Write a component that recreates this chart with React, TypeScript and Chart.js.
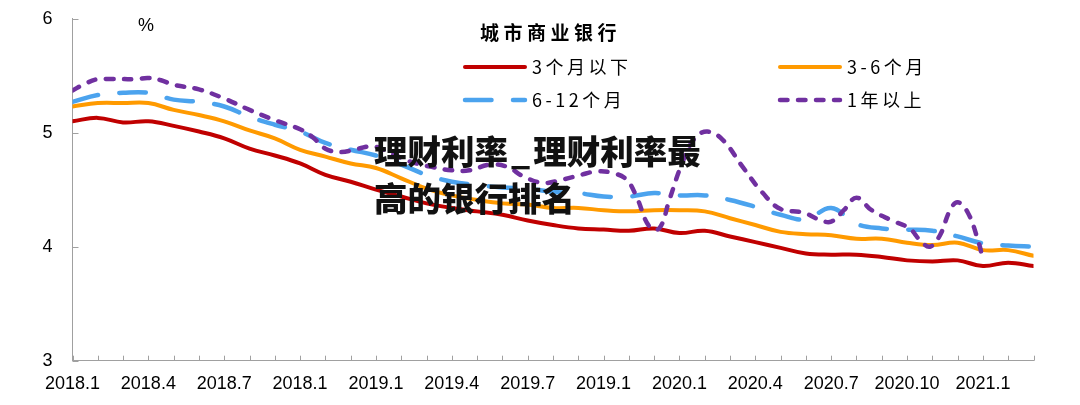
import React, { useEffect, useRef } from "react";
import { Chart, registerables } from "chart.js";
Chart.register(...registerables);

// month index from 2018.1 (0) to 2021.3 (38)
const months = [0, 1, 2, 3, 4, 5, 6, 7, 8, 9, 10, 11, 12, 13, 14, 15, 16, 17, 18, 19, 20, 21, 22, 23, 24, 25, 26, 27, 28, 29, 30, 31, 32, 33, 34, 35, 36, 37, 38];

const xTickMonths = [0, 3, 6, 9, 12, 15, 18, 21, 24, 27, 30, 33, 36];
const xTickLabels = ["2018.1", "2018.4", "2018.7", "2018.1", "2019.1", "2019.4", "2019.7", "2019.1", "2020.1", "2020.4", "2020.7", "2020.10", "2021.1"];
const yTicks = [3, 4, 5, 6];

const seriesNames = ["3个月以下", "3-6个月", "6-12个月", "1年以上"];
const legendTitle = "城市商业银行";
const unitLabel = "%";

const below3m = [5.10, 5.13, 5.09, 5.10, 5.06, 5.01, 4.95, 4.86, 4.80, 4.73, 4.63, 4.57, 4.50, 4.44, 4.38, 4.34, 4.31, 4.28, 4.23, 4.19, 4.16, 4.15, 4.14, 4.16, 4.12, 4.14, 4.09, 4.04, 3.99, 3.94, 3.93, 3.93, 3.91, 3.88, 3.87, 3.88, 3.83, 3.86, 3.83];
const m3to6 = [5.23, 5.26, 5.26, 5.26, 5.20, 5.155, 5.10, 5.02, 4.95, 4.85, 4.79, 4.73, 4.69, 4.60, 4.51, 4.45, 4.41, 4.38, 4.37, 4.34, 4.34, 4.32, 4.31, 4.32, 4.32, 4.31, 4.25, 4.19, 4.13, 4.11, 4.10, 4.07, 4.07, 4.035, 4.015, 4.035, 3.97, 3.97, 3.92];
const m6to12 = [5.27, 5.33, 5.35, 5.35, 5.29, 5.27, 5.23, 5.14, 5.07, 5.01, 4.91, 4.85, 4.80, 4.72, 4.63, 4.57, 4.54, 4.52, 4.51, 4.48, 4.47, 4.44, 4.44, 4.47, 4.45, 4.45, 4.41, 4.35, 4.28, 4.24, 4.34, 4.20, 4.16, 4.15, 4.14, 4.09, 4.03, 4.01, 4.00];

const over1yX = [0, 0.5, 1, 1.5, 2, 2.5, 3, 3.5, 4, 5, 6, 7, 8, 9, 9.5, 10, 10.6, 11.3, 11.9, 12.6, 13.3, 14.2, 15, 15.7, 16.5, 17.2, 17.8, 18.6, 19.4, 20.1, 20.7, 21.3, 21.9, 22.3, 22.8, 23.2, 23.6, 24.1, 24.6, 25.1, 25.7, 26.5, 27.3, 28, 28.9, 29.5, 30, 30.5, 31, 31.6, 32.4, 33.1, 33.5, 33.9, 34.3, 34.7, 35, 35.4, 35.8, 36];
const over1y = [5.37, 5.43, 5.47, 5.47, 5.47, 5.47, 5.48, 5.46, 5.42, 5.38, 5.30, 5.20, 5.11, 5.03, 4.96, 4.86, 4.83, 4.86, 4.88, 4.82, 4.75, 4.70, 4.67, 4.67, 4.72, 4.70, 4.62, 4.56, 4.59, 4.63, 4.66, 4.65, 4.59, 4.44, 4.18, 4.16, 4.41, 4.73, 4.95, 5.01, 4.94, 4.70, 4.47, 4.33, 4.30, 4.24, 4.22, 4.32, 4.43, 4.32, 4.23, 4.16, 4.06, 4.00, 4.10, 4.32, 4.39, 4.30, 4.06, 3.89];

const AXIS_COLOR = "#a0a0a0";
const FONT_FAMILY = "'Liberation Sans', Arial, sans-serif";
const CJK_FAMILY = "'Noto Sans CJK SC', 'Liberation Sans', sans-serif";

const innerTicksPlugin = {
  id: "innerTicks",
  beforeDatasetsDraw(chart: any) {
    const { ctx, scales, chartArea } = chart;
    const x = scales.x;
    const y = scales.y;
    ctx.save();
    ctx.strokeStyle = AXIS_COLOR;
    ctx.lineWidth = 1;
    ctx.beginPath();
    for (const m of months) {
      const px = Math.round(x.getPixelForValue(m)) + 0.5;
      ctx.moveTo(px, chartArea.bottom);
      ctx.lineTo(px, chartArea.bottom - 5);
    }
    for (const v of yTicks) {
      const py = Math.round(y.getPixelForValue(v)) + 0.5;
      ctx.moveTo(chartArea.left, py);
      ctx.lineTo(chartArea.left + 6, py);
    }
    ctx.stroke();
    // unit label
    ctx.fillStyle = "#000";
    ctx.font = `18px ${FONT_FAMILY}`;
    ctx.textAlign = "left";
    ctx.textBaseline = "alphabetic";
    ctx.fillText(unitLabel, 138, 31);
    ctx.restore();
  },
};

const legendPlugin = {
  id: "customLegend",
  afterDraw(chart: any) {
    const { ctx } = chart;
    ctx.save();
    ctx.fillStyle = "#000";
    ctx.textAlign = "left";
    ctx.textBaseline = "alphabetic";
    ctx.font = `bold 19px ${CJK_FAMILY}`;
    (ctx as any).letterSpacing = "4.5px";
    ctx.fillText(legendTitle, 480, 40);
    const cols = [463, 778];
    const rows = [67, 100];
    chart.data.datasets.forEach((ds: any, i: number) => {
      const cx = cols[i % 2];
      const cy = rows[Math.floor(i / 2)];
      ctx.beginPath();
      ctx.strokeStyle = ds.borderColor;
      ctx.lineWidth = ds.borderWidth;
      ctx.lineCap = "round";
      ctx.setLineDash(ds.borderDash || []);
      ctx.moveTo(cx + 2, cy);
      ctx.lineTo(cx + 62, cy);
      ctx.stroke();
      ctx.setLineDash([]);
      ctx.font = `18px ${CJK_FAMILY}`;
      (ctx as any).letterSpacing = "3.5px";
      ctx.fillStyle = "#000";
      ctx.fillText(ds.label, cx + 69, cy + 6.5);
    });
    ctx.restore();
  },
};

export default function App() {
  const ref = useRef<HTMLCanvasElement>(null);
  useEffect(() => {
    document.body.style.margin = "0";
    const canvas = ref.current!;
    const mk = (xs: number[], ys: number[]) => xs.map((x, i) => ({ x, y: ys[i] }));
    const common = {
      pointRadius: 0,
      tension: 0.4,
      borderCapStyle: "round" as const,
      borderJoinStyle: "round" as const,
      fill: false,
    };
    const chart = new Chart(canvas, {
      type: "line",
      data: {
        datasets: [
          { ...common, label: seriesNames[0], data: mk(months, below3m), borderColor: "#C00000", borderWidth: 4, order: 3 },
          { ...common, label: seriesNames[1], data: mk(months, m3to6), borderColor: "#FF9A00", borderWidth: 4, order: 2 },
          { ...common, label: seriesNames[2], data: mk(months, m6to12), borderColor: "#4BA3EE", borderWidth: 4.5, borderDash: [26.5, 21.5], order: 1 },
          { ...common, label: seriesNames[3], data: mk(over1yX, over1y), borderColor: "#7030A0", borderWidth: 4.5, borderDash: [7.5, 10.5], order: 0 },
        ],
      },
      options: {
        responsive: false,
        animation: false,
        devicePixelRatio: 1,
        layout: { padding: { top: 18.7, right: 46.5, left: 0, bottom: 0 } },
        plugins: { legend: { display: false }, tooltip: { enabled: false } },
        scales: {
          x: {
            type: "linear",
            min: 0,
            max: 38,
            afterBuildTicks: (s: any) => {
              s.ticks = xTickMonths.map((v) => ({ value: v }));
            },
            afterFit: (s: any) => {
              s.height = 44.3;
            },
            ticks: {
              autoSkip: false,
              maxRotation: 0,
              padding: 13,
              color: "#000",
              font: { family: FONT_FAMILY, size: 18 },
              callback: (_v: any, i: number) => xTickLabels[i],
            },
            grid: { display: false, drawTicks: false },
            border: { display: true, color: AXIS_COLOR, width: 1 },
          },
          y: {
            min: 3,
            max: 6,
            afterBuildTicks: (s: any) => {
              s.ticks = yTicks.map((v) => ({ value: v }));
            },
            afterFit: (s: any) => {
              s.width = 72.5;
              s.paddingTop = 0;
              s.paddingBottom = 0;
            },
            ticks: {
              padding: 20,
              color: "#000",
              font: { family: FONT_FAMILY, size: 18 },
            },
            grid: { display: false, drawTicks: false },
            border: { display: true, color: AXIS_COLOR, width: 1 },
          },
        },
      },
      plugins: [innerTicksPlugin, legendPlugin],
    } as any);
    return () => chart.destroy();
  }, []);

  return (
    <div style={{ position: "relative", width: 1080, height: 405, background: "#fff", overflow: "hidden" }}>
      <canvas ref={ref} width={1080} height={405} style={{ display: "block" }} />
      <div
        style={{
          position: "absolute",
          left: 374,
          top: 126,
          fontFamily: CJK_FAMILY,
          fontWeight: 900,
          fontSize: 33.5,
          lineHeight: "47px",
          color: "#111",
          whiteSpace: "pre",
        }}
      >
        {"理财利率"}
        <span style={{ margin: "0 3px" }}>_</span>
        {"理财利率最"}
        {"\n"}
        {"高的银行排名"}
      </div>
    </div>
  );
}
